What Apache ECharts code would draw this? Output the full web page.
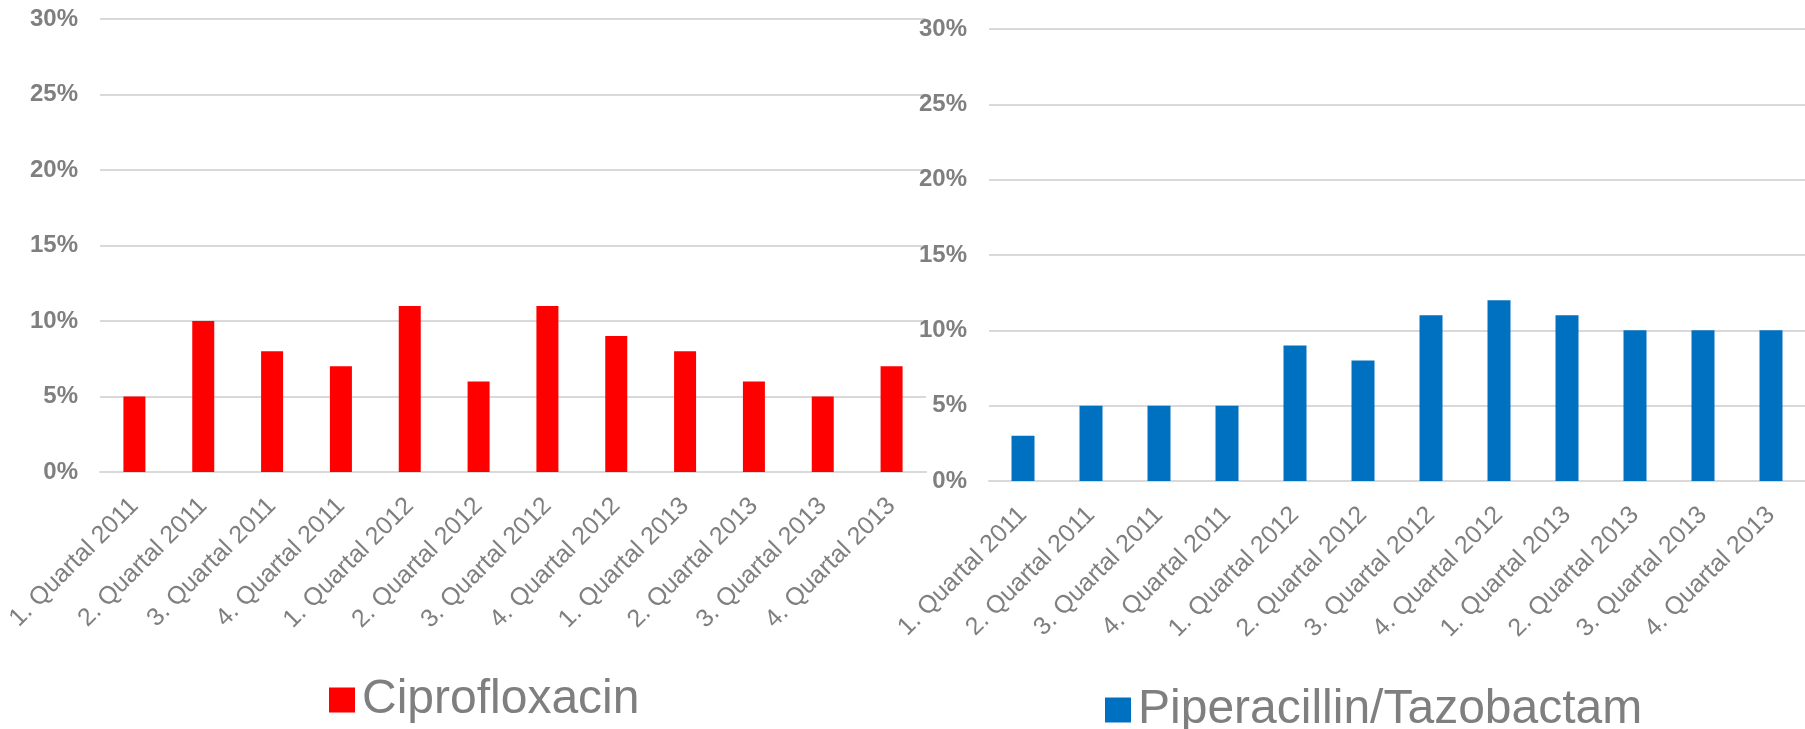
<!DOCTYPE html>
<html>
<head>
<meta charset="utf-8">
<script src="https://cdn.jsdelivr.net/npm/echarts@6/dist/echarts.min.js"></script>
<style>html,body{margin:0;padding:0;background:#fff}#c{width:1805px;height:729px}</style>
</head>
<body>
<div id="c"></div>
<script>
const categories = ['1. Quartal 2011','2. Quartal 2011','3. Quartal 2011','4. Quartal 2011','1. Quartal 2012','2. Quartal 2012','3. Quartal 2012','4. Quartal 2012','1. Quartal 2013','2. Quartal 2013','3. Quartal 2013','4. Quartal 2013'];
const ciprofloxacin = [5, 10, 8, 7, 11, 6, 11, 9, 8, 6, 5, 7];
const piperacillinTazobactam = [3, 5, 5, 5, 9, 8, 11, 12, 11, 10, 10, 10];
const seriesNames = ['Ciprofloxacin', 'Piperacillin/Tazobactam'];
const yMin = 0, yMax = 30, yStep = 5;

const FONT = '"Liberation Sans", Arial, sans-serif';
const GRAY = '#7f7f7f';
const GRID = '#d9d9d9';

function xAxis(gridIndex) {
  return {
    type: 'category', gridIndex, data: categories,
    axisLine: { show: true, lineStyle: { color: GRID, width: 2 } },
    axisTick: { show: false },
    axisLabel: { rotate: 45, color: GRAY, fontFamily: FONT, fontSize: 25, margin: 30, interval: 0 }
  };
}
function yAxis(gridIndex) {
  return {
    type: 'value', gridIndex, min: yMin, max: yMax, interval: yStep,
    axisLine: { show: false }, axisTick: { show: false },
    splitLine: { lineStyle: { color: GRID, width: 2 } },
    axisLabel: { color: GRAY, fontFamily: FONT, fontSize: 24, fontWeight: 'bold', margin: 22, formatter: v => v + '%' }
  };
}

const chart = echarts.init(document.getElementById('c'), null, { renderer: 'canvas' });
chart.setOption({
  animation: false,
  backgroundColor: '#fff',
  grid: [
    { left: 100, top: 19, width: 826, height: 453 },
    { left: 989, top: 29, width: 823, height: 452 }
  ],
  xAxis: [xAxis(0), xAxis(1)],
  yAxis: [yAxis(0), yAxis(1)],
  legend: [
    { data: [seriesNames[0]], left: 324, top: 671, itemWidth: 26, itemHeight: 25, itemGap: 10,
      icon: 'rect', textStyle: { color: GRAY, fontFamily: FONT, fontSize: 48, lineHeight: 48, padding: [0,0,0,2] } },
    { data: [seriesNames[1]], left: 1100, top: 681, itemWidth: 26, itemHeight: 25, itemGap: 10,
      icon: 'rect', textStyle: { color: GRAY, fontFamily: FONT, fontSize: 48, lineHeight: 48, padding: [0,0,0,2] } }
  ],
  series: [
    { name: seriesNames[0], type: 'bar', xAxisIndex: 0, yAxisIndex: 0, data: ciprofloxacin, barWidth: 22, itemStyle: { color: '#ff0000' } },
    { name: seriesNames[1], type: 'bar', xAxisIndex: 1, yAxisIndex: 1, data: piperacillinTazobactam, barWidth: 23, itemStyle: { color: '#0070c0' } }
  ]
});
</script>
</body>
</html>
